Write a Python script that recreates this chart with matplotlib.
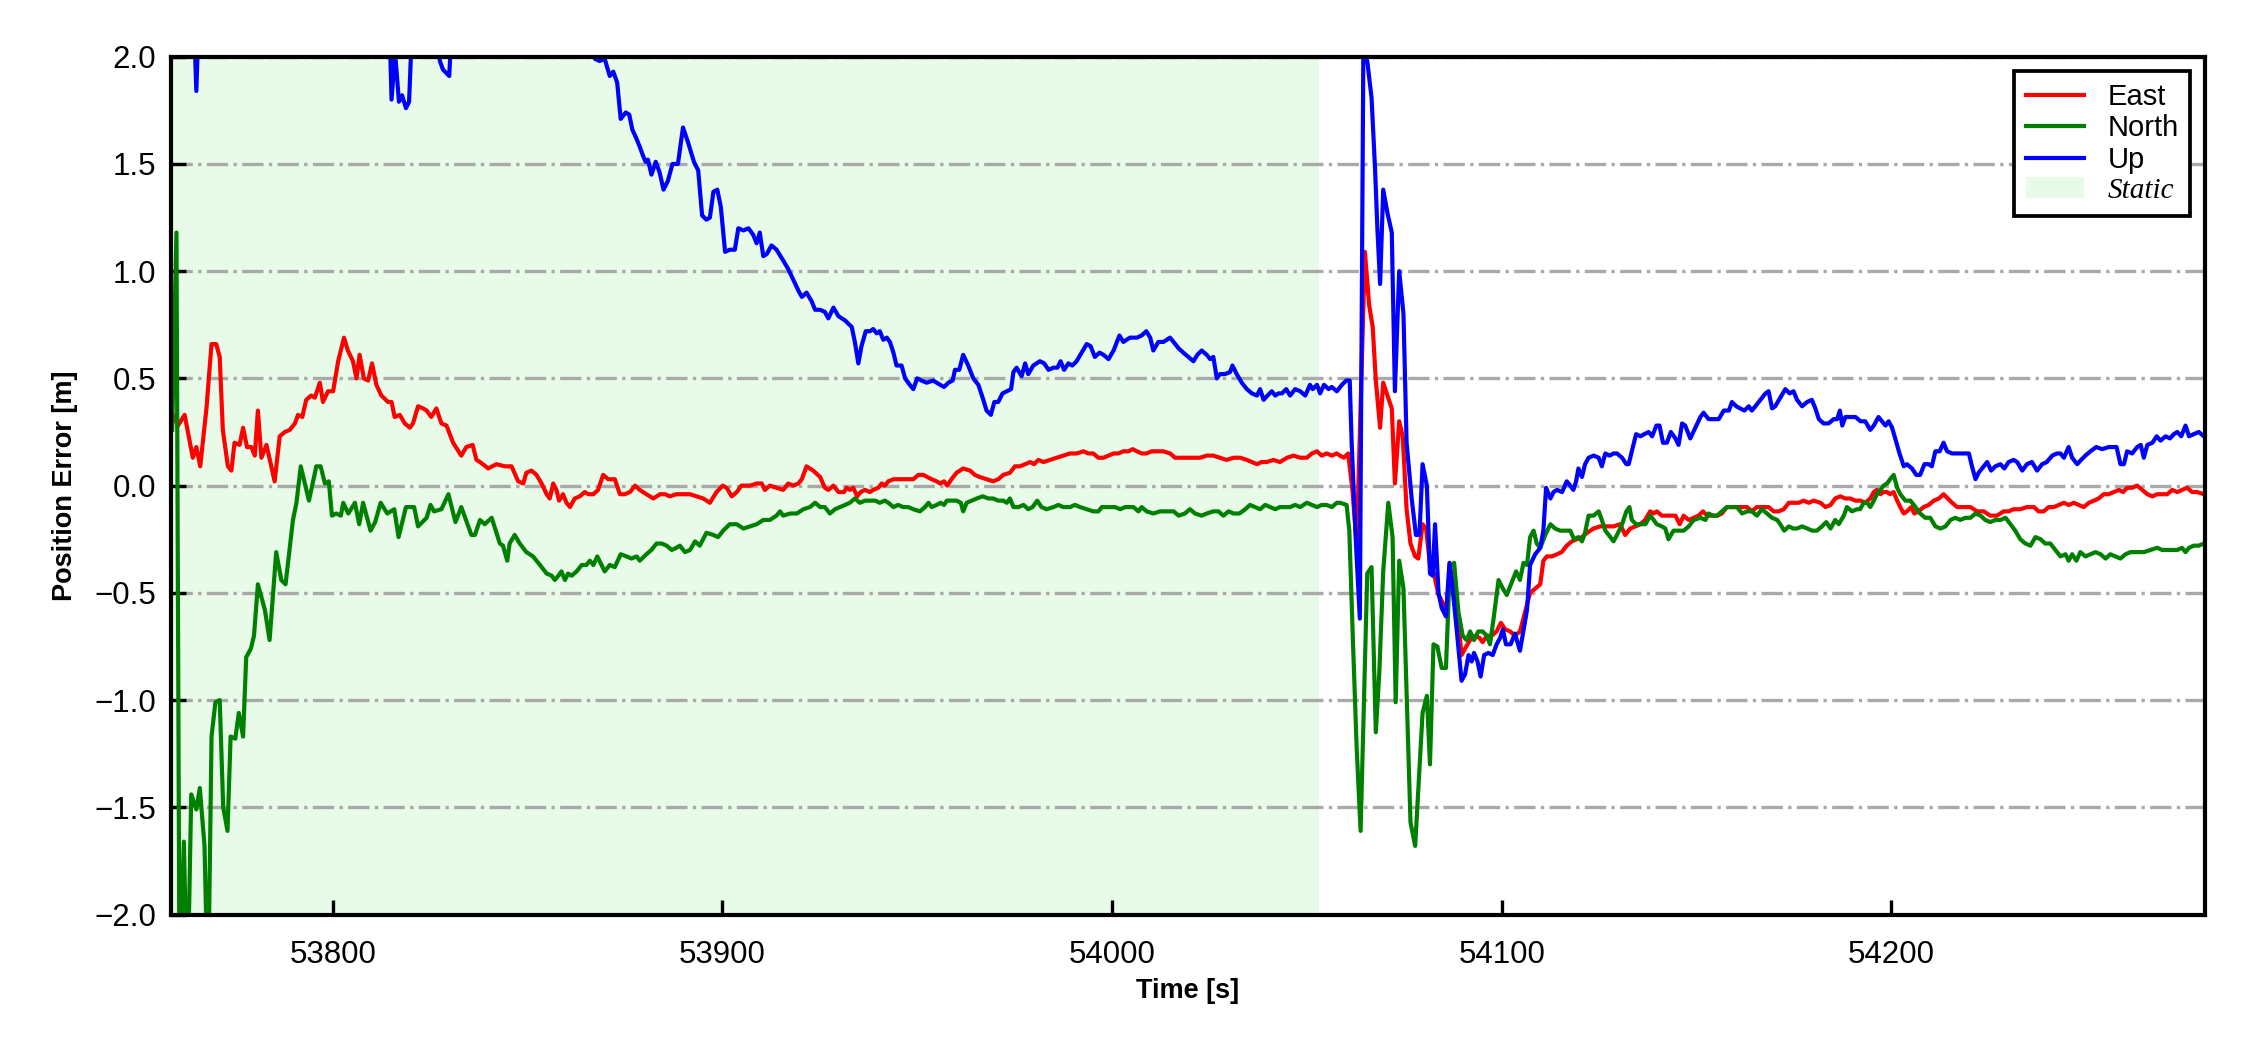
import numpy as np
import matplotlib
matplotlib.use("Agg")
import matplotlib.pyplot as plt

plt.rcParams["font.family"] = ["Liberation Sans", "DejaVu Sans"]

# (time [s], error [m]); values outside +-2 are clipped by the axes
EAST = [
    (53759.0, 0.33), (53760.3, 0.28), (53762.0, 0.33), (53764.1, 0.13), (53765.0, 0.18),
    (53766.0, 0.09), (53767.6, 0.36), (53768.9, 0.66), (53770.1, 0.66), (53771.0, 0.60),
    (53771.8, 0.26), (53773.1, 0.09), (53774.0, 0.07), (53774.8, 0.20), (53776.1, 0.19),
    (53777.0, 0.27), (53778.0, 0.18), (53779.1, 0.18), (53780.0, 0.14), (53780.8, 0.35),
    (53781.7, 0.13), (53783.0, 0.19), (53785.1, 0.02), (53786.4, 0.23), (53787.7, 0.25),
    (53789.0, 0.26), (53790.3, 0.29), (53791.1, 0.33), (53792.2, 0.32), (53793.2, 0.40),
    (53794.5, 0.42), (53795.4, 0.41), (53796.7, 0.48), (53797.5, 0.39), (53798.8, 0.44),
    (53800.1, 0.44), (53801.4, 0.58), (53802.9, 0.69), (53803.9, 0.63), (53805.2, 0.58),
    (53806.1, 0.50), (53806.9, 0.61), (53808.0, 0.50), (53809.1, 0.49), (53810.1, 0.57),
    (53811.2, 0.47), (53812.5, 0.42), (53814.2, 0.39), (53815.1, 0.39), (53815.9, 0.32),
    (53817.2, 0.33), (53818.5, 0.29), (53819.8, 0.27), (53820.6, 0.29), (53821.9, 0.37),
    (53823.2, 0.36), (53824.1, 0.35), (53825.3, 0.32), (53826.6, 0.36), (53827.9, 0.29),
    (53829.2, 0.28), (53830.9, 0.20), (53833.0, 0.14), (53834.3, 0.18), (53835.9, 0.19),
    (53836.9, 0.12), (53837.8, 0.11), (53839.9, 0.08), (53842.0, 0.10), (53844.2, 0.09),
    (53845.9, 0.09), (53847.6, 0.02), (53848.9, 0.01), (53849.7, 0.06), (53851.0, 0.07),
    (53852.3, 0.05), (53853.6, 0.01), (53854.9, -0.04), (53855.7, -0.06), (53856.6, 0.01),
    (53857.4, -0.02), (53858.1, -0.07), (53859.1, -0.04), (53860.0, -0.08), (53860.9, -0.10),
    (53862.1, -0.06), (53863.4, -0.05), (53864.7, -0.03), (53865.6, -0.04), (53866.9, -0.04),
    (53868.1, -0.02), (53869.4, 0.05), (53870.7, 0.03), (53872.4, 0.03), (53873.7, -0.04),
    (53875.0, -0.04), (53876.3, -0.03), (53877.6, 0.00), (53878.8, -0.02), (53880.5, -0.04),
    (53882.3, -0.06), (53884.0, -0.04), (53885.3, -0.04), (53886.5, -0.05), (53888.2, -0.04),
    (53890.0, -0.04), (53891.7, -0.04), (53893.4, -0.05), (53895.1, -0.06), (53896.8, -0.08),
    (53898.5, -0.03), (53900.1, 0.00), (53901.1, -0.01), (53902.4, -0.05), (53903.7, -0.03),
    (53904.9, 0.00), (53907.1, 0.00), (53908.8, 0.01), (53910.1, 0.01), (53910.9, -0.02),
    (53912.2, 0.00), (53913.9, -0.01), (53915.6, -0.02), (53916.9, 0.01), (53918.2, 0.00),
    (53919.5, 0.01), (53920.4, 0.03), (53921.6, 0.09), (53923.3, 0.07), (53925.1, 0.04),
    (53926.3, -0.01), (53927.2, -0.02), (53928.5, 0.00), (53929.8, -0.03), (53931.2, -0.03),
    (53931.9, -0.01), (53932.7, -0.02), (53933.6, -0.01), (53934.6, -0.05), (53935.5, -0.03),
    (53936.6, -0.02), (53937.9, -0.03), (53938.7, -0.02), (53940.0, -0.01), (53940.9, 0.01),
    (53941.7, 0.00), (53942.6, 0.02), (53943.9, 0.03), (53945.1, 0.03), (53946.4, 0.03),
    (53947.7, 0.03), (53949.0, 0.03), (53950.3, 0.05), (53951.6, 0.05), (53952.6, 0.04),
    (53953.7, 0.03), (53955.0, 0.02), (53955.9, 0.01), (53956.9, 0.02), (53957.7, 0.00),
    (53958.8, 0.03), (53960.1, 0.06), (53961.8, 0.08), (53963.6, 0.07), (53964.8, 0.05),
    (53966.1, 0.04), (53967.8, 0.03), (53969.5, 0.02), (53970.8, 0.03), (53972.1, 0.05),
    (53973.8, 0.06), (53975.1, 0.09), (53976.4, 0.09), (53977.7, 0.10), (53979.0, 0.11),
    (53980.0, 0.10), (53981.1, 0.12), (53982.4, 0.11), (53984.1, 0.12), (53985.8, 0.13),
    (53987.5, 0.14), (53989.2, 0.15), (53990.9, 0.15), (53992.7, 0.16), (53993.9, 0.15),
    (53995.2, 0.15), (53996.5, 0.13), (53997.8, 0.13), (53999.1, 0.14), (54000.4, 0.15),
    (54001.6, 0.15), (54002.9, 0.16), (54004.2, 0.16), (54005.3, 0.17), (54006.4, 0.16),
    (54007.6, 0.15), (54008.8, 0.15), (54010.2, 0.16), (54011.5, 0.16), (54013.2, 0.16),
    (54014.9, 0.15), (54016.2, 0.13), (54017.5, 0.13), (54019.2, 0.13), (54020.9, 0.13),
    (54022.6, 0.13), (54024.3, 0.14), (54026.0, 0.14), (54027.7, 0.13), (54029.4, 0.12),
    (54031.2, 0.13), (54032.9, 0.13), (54034.6, 0.12), (54035.9, 0.11), (54037.2, 0.10),
    (54038.4, 0.11), (54039.7, 0.11), (54041.4, 0.12), (54043.1, 0.11), (54044.9, 0.13),
    (54046.6, 0.14), (54048.3, 0.13), (54050.0, 0.13), (54051.3, 0.15), (54052.6, 0.16),
    (54053.8, 0.14), (54055.1, 0.15), (54056.4, 0.14), (54057.7, 0.15), (54058.5, 0.14),
    (54059.5, 0.13), (54060.6, 0.15), (54061.7, -0.02), (54062.8, -0.28), (54064.9, 1.09),
    (54066.0, 0.84), (54066.9, 0.74), (54067.7, 0.49), (54068.8, 0.27), (54069.6, 0.48),
    (54070.5, 0.43), (54071.8, 0.36), (54072.6, 0.01), (54073.7, 0.30), (54074.6, 0.23),
    (54075.6, -0.11), (54076.6, -0.27), (54077.8, -0.33), (54078.6, -0.34), (54079.7, -0.18),
    (54080.6, -0.20), (54081.6, -0.37), (54082.6, -0.41), (54083.8, -0.51), (54085.0, -0.55),
    (54085.9, -0.58), (54086.7, -0.37), (54087.6, -0.48), (54088.6, -0.58), (54089.7, -0.79),
    (54090.9, -0.75), (54091.9, -0.72), (54093.2, -0.70), (54094.3, -0.71), (54095.1, -0.73),
    (54096.2, -0.70), (54097.4, -0.70), (54098.7, -0.68), (54099.8, -0.64), (54100.9, -0.67),
    (54102.2, -0.68), (54103.4, -0.70), (54104.7, -0.68), (54106.0, -0.59), (54107.3, -0.50),
    (54108.6, -0.48), (54109.9, -0.46), (54110.7, -0.35), (54111.6, -0.33), (54112.9, -0.33),
    (54114.2, -0.32), (54115.4, -0.31), (54116.7, -0.28), (54118.0, -0.26), (54119.3, -0.25),
    (54120.6, -0.24), (54121.9, -0.22), (54123.6, -0.20), (54125.3, -0.19), (54127.0, -0.19),
    (54128.7, -0.19), (54130.4, -0.18), (54131.7, -0.23), (54133.0, -0.20), (54134.3, -0.19),
    (54135.6, -0.18), (54136.8, -0.16), (54138.1, -0.12), (54139.0, -0.13), (54139.8, -0.12),
    (54141.1, -0.14), (54142.4, -0.14), (54143.7, -0.14), (54144.6, -0.14), (54145.7, -0.18),
    (54146.7, -0.14), (54148.0, -0.16), (54149.3, -0.15), (54150.5, -0.14), (54151.7, -0.12),
    (54152.7, -0.14), (54154.0, -0.14), (54155.3, -0.14), (54156.5, -0.13), (54157.8, -0.10),
    (54159.5, -0.10), (54161.2, -0.10), (54163.0, -0.10), (54164.2, -0.12), (54165.5, -0.10),
    (54166.8, -0.10), (54168.5, -0.10), (54169.8, -0.12), (54171.1, -0.12), (54172.4, -0.11),
    (54173.7, -0.08), (54175.0, -0.08), (54176.2, -0.08), (54177.5, -0.07), (54178.8, -0.08),
    (54180.1, -0.07), (54181.8, -0.08), (54183.1, -0.10), (54184.4, -0.09), (54185.6, -0.06),
    (54186.9, -0.05), (54188.2, -0.06), (54189.5, -0.06), (54190.8, -0.07), (54192.1, -0.07),
    (54193.3, -0.08), (54194.6, -0.06), (54195.5, -0.03), (54196.3, -0.02), (54197.2, -0.04),
    (54198.0, -0.03), (54198.9, -0.03), (54199.7, -0.04), (54200.6, -0.03), (54201.5, -0.07),
    (54202.3, -0.10), (54203.2, -0.13), (54204.0, -0.12), (54205.1, -0.10), (54205.9, -0.13),
    (54207.0, -0.12), (54208.3, -0.10), (54209.6, -0.09), (54210.9, -0.07), (54212.2, -0.06),
    (54213.4, -0.04), (54214.5, -0.06), (54215.6, -0.08), (54216.9, -0.10), (54218.6, -0.10),
    (54220.3, -0.10), (54222.0, -0.12), (54223.7, -0.12), (54225.4, -0.14), (54227.1, -0.14),
    (54228.8, -0.12), (54230.1, -0.12), (54231.4, -0.11), (54233.1, -0.11), (54234.8, -0.10),
    (54236.6, -0.10), (54237.8, -0.12), (54239.1, -0.12), (54240.4, -0.10), (54241.7, -0.10),
    (54243.0, -0.09), (54244.3, -0.08), (54245.5, -0.09), (54246.8, -0.08), (54248.1, -0.09),
    (54249.4, -0.10), (54250.7, -0.08), (54252.0, -0.07), (54253.2, -0.06), (54254.5, -0.04),
    (54255.8, -0.04), (54257.1, -0.03), (54258.4, -0.02), (54259.5, -0.03), (54260.5, -0.01),
    (54261.8, -0.01), (54263.1, 0.00), (54264.4, -0.02), (54265.7, -0.04), (54267.0, -0.05),
    (54268.2, -0.04), (54269.5, -0.04), (54270.8, -0.04), (54272.1, -0.02), (54273.4, -0.03),
    (54274.6, -0.02), (54275.9, -0.01), (54277.2, -0.03), (54278.5, -0.03), (54280.2, -0.04),
]

NORTH = [
    (53758.8, 0.26), (53759.9, 1.18), (53760.7, -2.40), (53761.8, -1.66), (53762.7, -2.40),
    (53763.7, -1.44), (53765.0, -1.51), (53765.9, -1.41), (53767.1, -1.68), (53768.0, -2.40),
    (53768.9, -1.17), (53769.9, -1.01), (53771.0, -1.00), (53771.9, -1.50), (53773.0, -1.61),
    (53773.8, -1.17), (53775.0, -1.18), (53775.9, -1.06), (53777.0, -1.17), (53777.8, -0.80),
    (53779.0, -0.76), (53779.8, -0.70), (53780.8, -0.46), (53782.6, -0.58), (53783.8, -0.72),
    (53785.5, -0.31), (53786.8, -0.44), (53787.9, -0.46), (53789.8, -0.16), (53790.7, -0.08),
    (53791.8, 0.09), (53793.9, -0.07), (53795.8, 0.09), (53796.9, 0.09), (53798.0, 0.01),
    (53799.0, 0.02), (53799.8, -0.14), (53800.9, -0.13), (53802.1, -0.14), (53802.7, -0.08),
    (53804.0, -0.13), (53805.7, -0.08), (53806.8, -0.18), (53807.8, -0.08), (53809.7, -0.21),
    (53810.9, -0.17), (53812.3, -0.08), (53814.0, -0.13), (53815.8, -0.11), (53816.9, -0.24),
    (53818.8, -0.10), (53820.9, -0.10), (53821.9, -0.19), (53824.1, -0.15), (53825.1, -0.09),
    (53826.0, -0.12), (53827.9, -0.11), (53829.7, -0.04), (53831.5, -0.17), (53833.0, -0.10),
    (53835.6, -0.23), (53836.5, -0.23), (53837.8, -0.16), (53839.0, -0.18), (53840.8, -0.15),
    (53842.9, -0.27), (53843.7, -0.28), (53844.8, -0.35), (53845.4, -0.27), (53846.7, -0.23),
    (53848.0, -0.27), (53849.7, -0.31), (53851.4, -0.33), (53853.2, -0.37), (53854.9, -0.41),
    (53856.2, -0.42), (53857.0, -0.44), (53857.9, -0.42), (53858.7, -0.40), (53859.6, -0.44),
    (53860.4, -0.41), (53861.3, -0.42), (53862.6, -0.40), (53863.9, -0.37), (53865.1, -0.37),
    (53866.0, -0.35), (53866.9, -0.37), (53867.9, -0.33), (53869.0, -0.37), (53869.8, -0.40),
    (53871.1, -0.37), (53872.4, -0.38), (53873.9, -0.32), (53875.4, -0.33), (53876.7, -0.34),
    (53878.0, -0.33), (53878.8, -0.35), (53880.5, -0.32), (53881.8, -0.30), (53883.1, -0.27),
    (53884.4, -0.27), (53885.7, -0.28), (53887.0, -0.30), (53888.2, -0.29), (53889.1, -0.28),
    (53890.4, -0.31), (53891.7, -0.30), (53893.0, -0.26), (53894.2, -0.28), (53895.9, -0.22),
    (53897.7, -0.23), (53898.9, -0.24), (53900.2, -0.21), (53901.9, -0.18), (53903.7, -0.18),
    (53905.4, -0.20), (53907.1, -0.19), (53908.8, -0.18), (53910.5, -0.16), (53912.2, -0.16),
    (53913.9, -0.14), (53914.8, -0.12), (53915.6, -0.14), (53917.4, -0.13), (53919.1, -0.13),
    (53920.8, -0.11), (53922.5, -0.10), (53923.8, -0.08), (53925.1, -0.10), (53926.3, -0.10),
    (53927.6, -0.13), (53928.9, -0.11), (53930.2, -0.10), (53931.5, -0.09), (53932.7, -0.08),
    (53934.0, -0.06), (53935.3, -0.08), (53936.6, -0.07), (53937.9, -0.07), (53939.2, -0.07),
    (53940.4, -0.08), (53941.7, -0.07), (53942.6, -0.08), (53943.9, -0.10), (53945.1, -0.09),
    (53946.4, -0.10), (53947.7, -0.10), (53949.0, -0.11), (53950.7, -0.12), (53952.0, -0.10),
    (53952.9, -0.08), (53953.7, -0.10), (53955.0, -0.09), (53956.0, -0.08), (53956.9, -0.09),
    (53957.6, -0.07), (53958.8, -0.07), (53960.1, -0.07), (53961.2, -0.08), (53961.8, -0.12),
    (53962.7, -0.08), (53964.0, -0.07), (53965.3, -0.06), (53966.8, -0.05), (53968.3, -0.06),
    (53969.5, -0.06), (53970.8, -0.07), (53972.1, -0.07), (53973.0, -0.08), (53973.8, -0.06),
    (53974.7, -0.10), (53976.0, -0.10), (53977.3, -0.09), (53978.5, -0.11), (53979.6, -0.10),
    (53980.8, -0.07), (53981.9, -0.10), (53983.2, -0.11), (53985.0, -0.10), (53986.2, -0.09),
    (53987.5, -0.10), (53989.2, -0.10), (53990.5, -0.09), (53991.8, -0.10), (53993.5, -0.11),
    (53995.2, -0.12), (53996.5, -0.12), (53997.4, -0.10), (53998.2, -0.10), (53999.5, -0.10),
    (54000.8, -0.10), (54002.1, -0.11), (54003.4, -0.10), (54004.6, -0.10), (54005.5, -0.10),
    (54006.8, -0.12), (54007.6, -0.10), (54008.9, -0.12), (54010.6, -0.13), (54012.3, -0.12),
    (54014.1, -0.12), (54015.8, -0.12), (54017.1, -0.14), (54018.7, -0.13), (54020.0, -0.11),
    (54021.3, -0.13), (54023.0, -0.14), (54024.3, -0.13), (54026.0, -0.12), (54027.3, -0.12),
    (54028.6, -0.14), (54029.9, -0.12), (54031.2, -0.13), (54032.7, -0.13), (54034.2, -0.11),
    (54035.4, -0.09), (54036.7, -0.10), (54038.0, -0.11), (54039.3, -0.09), (54040.6, -0.10),
    (54041.9, -0.11), (54043.1, -0.10), (54044.4, -0.10), (54045.7, -0.10), (54047.0, -0.09),
    (54048.3, -0.10), (54050.0, -0.08), (54051.3, -0.09), (54052.6, -0.10), (54053.8, -0.09),
    (54055.1, -0.09), (54056.4, -0.10), (54057.7, -0.08), (54058.5, -0.08), (54060.2, -0.09),
    (54060.9, -0.21), (54061.8, -0.71), (54062.8, -1.23), (54063.8, -1.61), (54064.7, -0.97),
    (54065.5, -0.41), (54066.6, -0.38), (54067.7, -1.15), (54068.6, -0.87), (54069.6, -0.40),
    (54070.9, -0.08), (54072.0, -0.24), (54072.8, -1.01), (54073.7, -0.35), (54074.8, -0.48),
    (54075.6, -0.97), (54076.6, -1.57), (54077.8, -1.68), (54078.6, -1.42), (54079.7, -1.06),
    (54080.8, -0.98), (54081.6, -1.30), (54082.5, -0.74), (54083.5, -0.75), (54084.6, -0.85),
    (54085.7, -0.85), (54086.7, -0.38), (54087.8, -0.36), (54088.9, -0.59), (54090.0, -0.70),
    (54091.0, -0.72), (54091.9, -0.68), (54092.9, -0.72), (54094.0, -0.68), (54095.1, -0.68),
    (54096.2, -0.70), (54097.0, -0.74), (54098.0, -0.61), (54099.2, -0.44), (54100.3, -0.48),
    (54101.3, -0.51), (54102.6, -0.45), (54103.7, -0.40), (54104.7, -0.44), (54105.6, -0.36),
    (54106.5, -0.37), (54107.3, -0.24), (54108.2, -0.21), (54109.0, -0.27), (54109.9, -0.29),
    (54111.2, -0.23), (54112.5, -0.18), (54113.7, -0.20), (54115.0, -0.21), (54116.3, -0.21),
    (54117.6, -0.21), (54118.6, -0.25), (54119.7, -0.24), (54120.6, -0.26), (54121.4, -0.22),
    (54122.3, -0.14), (54123.6, -0.14), (54124.9, -0.12), (54125.7, -0.16), (54126.6, -0.21),
    (54127.9, -0.24), (54128.7, -0.26), (54129.6, -0.23), (54130.9, -0.18), (54132.0, -0.12),
    (54132.8, -0.10), (54133.4, -0.16), (54134.5, -0.18), (54135.6, -0.18), (54136.9, -0.18),
    (54138.1, -0.14), (54139.0, -0.16), (54139.8, -0.18), (54141.1, -0.19), (54142.0, -0.20),
    (54142.8, -0.25), (54144.1, -0.21), (54145.4, -0.21), (54146.7, -0.21), (54148.0, -0.19),
    (54149.3, -0.16), (54151.0, -0.15), (54152.3, -0.16), (54153.1, -0.13), (54154.2, -0.14),
    (54155.3, -0.14), (54156.5, -0.12), (54157.8, -0.10), (54159.1, -0.10), (54160.4, -0.10),
    (54161.7, -0.13), (54163.0, -0.12), (54164.2, -0.12), (54165.5, -0.14), (54166.8, -0.11),
    (54168.1, -0.13), (54169.4, -0.15), (54170.7, -0.16), (54171.5, -0.18), (54172.5, -0.21),
    (54173.7, -0.19), (54174.8, -0.20), (54175.8, -0.20), (54177.1, -0.19), (54178.4, -0.20),
    (54179.7, -0.21), (54180.9, -0.21), (54182.2, -0.19), (54183.3, -0.17), (54184.4, -0.20),
    (54185.6, -0.16), (54186.5, -0.18), (54187.8, -0.14), (54188.6, -0.10), (54189.9, -0.12),
    (54191.2, -0.11), (54192.0, -0.11), (54192.9, -0.08), (54193.8, -0.08), (54194.6, -0.10),
    (54195.5, -0.07), (54196.3, -0.04), (54197.2, -0.02), (54198.0, 0.00), (54198.9, 0.01),
    (54199.7, 0.03), (54200.6, 0.05), (54201.5, -0.01), (54202.3, -0.04), (54203.6, -0.07),
    (54204.9, -0.07), (54206.2, -0.10), (54207.4, -0.13), (54208.7, -0.15), (54210.0, -0.15),
    (54211.3, -0.19), (54212.6, -0.20), (54213.9, -0.19), (54215.2, -0.16), (54216.4, -0.15),
    (54217.7, -0.16), (54219.0, -0.15), (54220.3, -0.15), (54221.6, -0.13), (54222.9, -0.14),
    (54224.1, -0.16), (54225.4, -0.17), (54226.7, -0.16), (54228.0, -0.16), (54229.3, -0.15),
    (54230.6, -0.18), (54231.8, -0.21), (54233.1, -0.25), (54234.4, -0.27), (54235.7, -0.28),
    (54237.0, -0.24), (54238.3, -0.25), (54239.5, -0.27), (54240.8, -0.27), (54242.1, -0.30),
    (54243.4, -0.33), (54244.7, -0.32), (54245.5, -0.35), (54246.4, -0.32), (54247.5, -0.35),
    (54248.5, -0.31), (54249.8, -0.33), (54251.1, -0.32), (54252.4, -0.31), (54253.7, -0.32),
    (54255.0, -0.34), (54256.2, -0.32), (54257.5, -0.33), (54258.8, -0.34), (54260.1, -0.32),
    (54261.4, -0.31), (54263.1, -0.31), (54264.8, -0.31), (54266.5, -0.30), (54268.2, -0.29),
    (54269.5, -0.30), (54270.8, -0.30), (54272.1, -0.30), (54273.4, -0.30), (54274.6, -0.29),
    (54275.5, -0.31), (54276.4, -0.29), (54277.6, -0.28), (54278.9, -0.28), (54280.2, -0.27),
]

UP = [
    (53759.0, 2.40), (53764.0, 2.40), (53765.0, 1.84), (53766.0, 2.40), (53814.5, 2.20),
    (53815.1, 1.80), (53816.0, 2.02), (53817.0, 1.79), (53817.8, 1.82), (53818.8, 1.76),
    (53819.6, 1.79), (53820.5, 2.20), (53826.5, 2.20), (53827.5, 1.98), (53828.3, 1.94),
    (53829.9, 1.91), (53830.6, 2.15), (53866.5, 2.10), (53867.3, 1.99), (53868.5, 1.98),
    (53869.8, 1.99), (53871.1, 1.91), (53872.0, 1.93), (53873.0, 1.88), (53873.9, 1.71),
    (53875.2, 1.74), (53876.1, 1.73), (53876.9, 1.66), (53877.9, 1.62), (53878.8, 1.58),
    (53879.6, 1.54), (53880.3, 1.51), (53880.9, 1.52), (53881.8, 1.45), (53882.9, 1.51),
    (53883.9, 1.46), (53884.9, 1.38), (53886.0, 1.42), (53887.2, 1.50), (53888.6, 1.50),
    (53889.9, 1.67), (53891.2, 1.60), (53892.7, 1.51), (53893.8, 1.47), (53894.8, 1.26),
    (53895.9, 1.24), (53896.8, 1.25), (53897.7, 1.37), (53898.7, 1.38), (53899.6, 1.30),
    (53900.7, 1.09), (53901.9, 1.10), (53903.2, 1.10), (53904.1, 1.20), (53905.4, 1.19),
    (53906.7, 1.20), (53907.9, 1.17), (53908.8, 1.13), (53909.6, 1.18), (53910.5, 1.07),
    (53911.4, 1.08), (53912.6, 1.12), (53913.9, 1.10), (53915.6, 1.05), (53916.9, 1.01),
    (53918.2, 0.96), (53919.5, 0.91), (53920.4, 0.88), (53921.6, 0.90), (53922.9, 0.86),
    (53923.8, 0.82), (53925.1, 0.82), (53926.3, 0.81), (53927.2, 0.78), (53928.5, 0.83),
    (53929.8, 0.79), (53931.5, 0.77), (53933.2, 0.74), (53934.0, 0.67), (53934.9, 0.57),
    (53935.7, 0.65), (53936.8, 0.72), (53937.9, 0.72), (53938.7, 0.73), (53939.6, 0.71),
    (53940.4, 0.72), (53941.3, 0.68), (53942.2, 0.69), (53943.0, 0.67), (53943.9, 0.62),
    (53944.7, 0.56), (53946.0, 0.56), (53946.9, 0.50), (53948.1, 0.47), (53949.0, 0.45),
    (53950.0, 0.50), (53951.1, 0.49), (53952.4, 0.48), (53954.1, 0.49), (53955.9, 0.47),
    (53956.9, 0.46), (53958.0, 0.48), (53959.1, 0.49), (53959.7, 0.54), (53960.8, 0.54),
    (53961.8, 0.61), (53963.1, 0.56), (53964.4, 0.50), (53965.7, 0.47), (53966.8, 0.41),
    (53967.8, 0.35), (53968.9, 0.33), (53969.8, 0.39), (53970.8, 0.39), (53971.9, 0.43),
    (53973.0, 0.44), (53974.1, 0.45), (53974.7, 0.53), (53975.5, 0.55), (53976.8, 0.51),
    (53977.7, 0.57), (53978.5, 0.52), (53979.8, 0.56), (53981.5, 0.58), (53982.6, 0.57),
    (53983.7, 0.54), (53985.0, 0.55), (53986.0, 0.55), (53986.8, 0.58), (53987.7, 0.54),
    (53988.8, 0.57), (53989.8, 0.56), (53990.9, 0.58), (53992.2, 0.62), (53993.5, 0.66),
    (53994.5, 0.65), (53995.6, 0.60), (53996.8, 0.62), (53997.8, 0.61), (53999.1, 0.59),
    (54000.4, 0.63), (54001.9, 0.70), (54002.9, 0.67), (54004.6, 0.69), (54006.4, 0.69),
    (54007.6, 0.70), (54008.8, 0.72), (54009.8, 0.69), (54010.6, 0.63), (54011.9, 0.67),
    (54013.2, 0.67), (54014.9, 0.69), (54016.2, 0.66), (54017.1, 0.64), (54018.3, 0.62),
    (54019.6, 0.60), (54020.9, 0.58), (54021.9, 0.61), (54023.0, 0.63), (54024.3, 0.61),
    (54025.2, 0.59), (54026.0, 0.60), (54026.9, 0.50), (54027.7, 0.52), (54029.0, 0.52),
    (54030.3, 0.53), (54030.9, 0.56), (54032.0, 0.52), (54033.3, 0.48), (54034.6, 0.45),
    (54035.9, 0.43), (54037.2, 0.42), (54038.0, 0.45), (54038.9, 0.40), (54039.9, 0.42),
    (54041.0, 0.44), (54041.9, 0.42), (54042.7, 0.43), (54043.6, 0.43), (54044.7, 0.45),
    (54045.7, 0.42), (54047.0, 0.45), (54048.3, 0.44), (54049.6, 0.42), (54050.8, 0.47),
    (54051.5, 0.45), (54052.6, 0.47), (54053.4, 0.43), (54054.4, 0.47), (54055.6, 0.45),
    (54056.4, 0.46), (54057.7, 0.44), (54059.0, 0.47), (54060.1, 0.49), (54061.0, 0.49),
    (54061.5, 0.20), (54062.6, -0.27), (54063.6, -0.62), (54064.5, 2.03), (54065.5, 1.98),
    (54066.6, 1.81), (54067.5, 1.48), (54068.1, 1.20), (54068.8, 0.94), (54069.6, 1.38),
    (54070.7, 1.27), (54071.8, 1.18), (54072.6, 0.44), (54073.7, 1.00), (54074.8, 0.80),
    (54075.6, 0.20), (54076.9, -0.06), (54078.0, -0.23), (54078.9, -0.23), (54079.7, 0.10),
    (54080.8, 0.00), (54081.6, -0.41), (54082.3, -0.42), (54082.9, -0.18), (54083.8, -0.50),
    (54084.6, -0.57), (54085.7, -0.61), (54086.6, -0.36), (54087.4, -0.48), (54088.5, -0.68),
    (54089.7, -0.91), (54090.6, -0.88), (54091.5, -0.79), (54092.3, -0.82), (54092.9, -0.78),
    (54093.8, -0.82), (54094.6, -0.89), (54095.5, -0.79), (54096.6, -0.78), (54097.7, -0.79),
    (54098.7, -0.74), (54099.6, -0.71), (54100.3, -0.67), (54101.1, -0.74), (54102.3, -0.74),
    (54103.4, -0.69), (54104.7, -0.77), (54106.5, -0.58), (54107.3, -0.37), (54108.6, -0.32),
    (54109.9, -0.29), (54110.7, -0.21), (54111.4, -0.01), (54112.5, -0.06), (54113.3, -0.03),
    (54114.2, -0.02), (54115.5, -0.03), (54116.7, 0.02), (54117.6, 0.00), (54118.4, -0.02),
    (54119.1, 0.02), (54119.7, 0.08), (54120.6, 0.04), (54121.4, 0.10), (54122.3, 0.13),
    (54123.6, 0.14), (54124.9, 0.13), (54125.7, 0.09), (54126.6, 0.15), (54127.7, 0.14),
    (54128.7, 0.15), (54129.6, 0.15), (54130.9, 0.13), (54132.0, 0.10), (54132.6, 0.10),
    (54133.4, 0.16), (54134.5, 0.24), (54135.6, 0.23), (54136.6, 0.24), (54137.7, 0.25),
    (54138.6, 0.23), (54139.7, 0.28), (54140.5, 0.28), (54141.4, 0.20), (54142.4, 0.20),
    (54143.4, 0.25), (54144.6, 0.22), (54145.4, 0.19), (54146.3, 0.29), (54147.1, 0.28),
    (54148.4, 0.22), (54149.7, 0.27), (54151.0, 0.32), (54151.8, 0.34), (54153.1, 0.31),
    (54154.4, 0.31), (54155.7, 0.31), (54157.0, 0.35), (54158.3, 0.35), (54159.1, 0.39),
    (54160.2, 0.37), (54161.2, 0.36), (54162.3, 0.35), (54163.4, 0.37), (54164.2, 0.35),
    (54165.1, 0.37), (54166.4, 0.40), (54167.7, 0.43), (54168.5, 0.44), (54169.4, 0.36),
    (54170.2, 0.37), (54171.5, 0.41), (54172.8, 0.45), (54173.9, 0.43), (54174.9, 0.44),
    (54175.8, 0.40), (54177.1, 0.37), (54178.4, 0.39), (54179.6, 0.40), (54180.5, 0.36),
    (54181.4, 0.31), (54182.6, 0.29), (54183.9, 0.29), (54185.2, 0.31), (54186.1, 0.31),
    (54186.8, 0.35), (54187.4, 0.28), (54188.2, 0.32), (54189.5, 0.32), (54190.8, 0.32),
    (54192.1, 0.30), (54193.3, 0.30), (54194.6, 0.26), (54195.5, 0.28), (54196.7, 0.32),
    (54197.6, 0.30), (54198.5, 0.28), (54199.3, 0.30), (54200.2, 0.27), (54201.0, 0.22),
    (54202.1, 0.15), (54203.2, 0.09), (54204.0, 0.10), (54205.3, 0.08), (54206.4, 0.05),
    (54207.4, 0.05), (54208.5, 0.10), (54209.6, 0.10), (54210.4, 0.09), (54211.3, 0.16),
    (54212.4, 0.16), (54213.4, 0.20), (54214.3, 0.16), (54215.6, 0.15), (54216.9, 0.15),
    (54218.6, 0.15), (54219.9, 0.15), (54220.7, 0.09), (54221.6, 0.03), (54222.4, 0.06),
    (54223.7, 0.09), (54224.6, 0.11), (54225.6, 0.07), (54226.7, 0.09), (54228.0, 0.10),
    (54229.0, 0.08), (54230.1, 0.11), (54231.4, 0.12), (54232.3, 0.11), (54233.6, 0.07),
    (54234.8, 0.10), (54236.1, 0.11), (54237.4, 0.07), (54238.7, 0.10), (54239.9, 0.11),
    (54241.3, 0.14), (54242.5, 0.15), (54243.4, 0.15), (54244.3, 0.13), (54245.5, 0.18),
    (54246.4, 0.13), (54247.7, 0.10), (54248.7, 0.12), (54249.8, 0.14), (54251.1, 0.16),
    (54252.6, 0.18), (54254.1, 0.17), (54255.8, 0.18), (54257.8, 0.18), (54258.8, 0.10),
    (54259.7, 0.10), (54260.5, 0.16), (54261.8, 0.15), (54263.1, 0.18), (54264.0, 0.19),
    (54264.8, 0.13), (54265.7, 0.19), (54267.0, 0.20), (54268.1, 0.23), (54269.1, 0.21),
    (54270.4, 0.23), (54271.5, 0.22), (54272.5, 0.24), (54273.4, 0.25), (54274.4, 0.23),
    (54275.5, 0.28), (54276.4, 0.23), (54277.6, 0.24), (54278.9, 0.25), (54280.2, 0.23),
]

SERIES = [("East", "red", EAST), ("North", "green", NORTH), ("Up", "blue", UP)]
T_START, T_END = 53758.5, 54280.5
STATIC_END = 54053.0
Y_TICKS = [-2.0, -1.5, -1.0, -0.5, 0.0, 0.5, 1.0, 1.5, 2.0]
X_TICKS = [53800, 53900, 54000, 54100, 54200]

fig, ax = plt.subplots(figsize=(7.5, 3.5), dpi=300)
fig.subplots_adjust(left=0.076, right=0.980, bottom=0.129, top=0.946)

static = ax.axvspan(T_START, STATIC_END, color="lightgreen", alpha=0.2, lw=0, label="Static")

handles = []
for name, color, pts in SERIES:
    t, v = zip(*pts)
    line, = ax.plot(t, v, color=color, lw=1.0, label=name)
    handles.append(line)
handles.append(static)

ax.set_xlim(T_START, T_END)
ax.set_ylim(-2.0, 2.0)
ax.set_xticks(X_TICKS)
ax.set_yticks(Y_TICKS)
ax.tick_params(direction="in", labelsize=7.5, width=0.8)
ax.tick_params(axis="x", pad=6.0)
ax.yaxis.grid(True, linestyle="-.", color="darkgray", lw=0.8)
for sp in ax.spines.values():
    sp.set_linewidth(1.0)

ax.set_xlabel("Time [s]", fontsize=6.5, fontweight="bold", labelpad=2.0)
ax.set_ylabel("Position Error [m]", fontsize=6.5, fontweight="bold")

leg = ax.legend(handles=handles, loc="upper right", fontsize=7, fancybox=False,
                edgecolor="black", framealpha=1.0, labelspacing=0.12)
leg.get_frame().set_linewidth(0.9)
static_text = leg.get_texts()[3]
static_text.set_fontfamily(["Liberation Serif", "DejaVu Serif"])
static_text.set_fontstyle("italic")

fig.savefig("out.png", dpi=300)
